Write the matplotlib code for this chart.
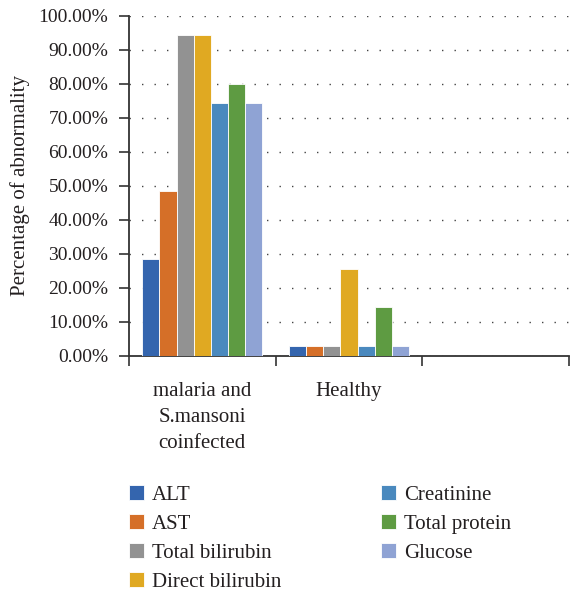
import numpy as np
import matplotlib
matplotlib.use("Agg")
import matplotlib.pyplot as plt

plt.rcParams["font.family"] = ["Liberation Serif", "DejaVu Serif"]

# data (percent abnormal)
categories = ["malaria and\nS.mansoni\ncoinfected", "Healthy", ""]
tests = ["ALT", "AST", "Total bilirubin", "Direct bilirubin",
         "Creatinine", "Total protein", "Glucose"]
alt = [28.57, 2.86, 0]
ast = [48.57, 2.86, 0]
total_bili = [94.29, 2.86, 0]
direct_bili = [94.29, 25.71, 0]
creatinine = [74.29, 2.86, 0]
total_protein = [80.00, 14.29, 0]
glucose = [74.29, 2.86, 0]
series = [alt, ast, total_bili, direct_bili, creatinine, total_protein, glucose]
colors = ["#3465ae", "#d56f28", "#929292", "#e0a922",
          "#4a89be", "#5e9b42", "#8fa3d4"]
yticks = np.arange(0, 101, 10)

TXT = "#231f20"

fig = plt.figure(figsize=(5.70, 5.92), dpi=100)
ax = fig.add_axes([129 / 570, 1 - 356 / 592, 441 / 570 - 0.002, 340 / 592])

x = np.arange(len(categories))
width = 0.117
for i, (vals, c, name) in enumerate(zip(series, colors, tests)):
    offs = (i - 3) * width
    ax.bar(x + offs, vals, width, color=c, edgecolor="white",
           linewidth=0.6, label=name, zorder=3)

ax.set_xlim(-0.5, 2.5)
ax.set_ylim(0, 100)
ax.set_yticks(yticks)
ax.set_yticklabels([f"{v:.2f}%" for v in yticks], fontsize=14, color=TXT)
ax.yaxis.grid(True, linestyle=(0, (1, 8)), color="#444444", linewidth=1, zorder=0)

ax.set_xticks([-0.5, 0.5, 1.5, 2.5])
ax.set_xticklabels([])
ax.set_xticks(x, minor=True)
ax.set_xticklabels(categories, minor=True, fontsize=15, color=TXT,
                   linespacing=1.5, va="top")
ax.tick_params(axis="x", which="minor", length=0, pad=19)
ax.tick_params(axis="x", which="major", length=7, width=1.2, color="#333333")
ax.tick_params(axis="y", length=7, width=1.2, color="#333333", pad=8)

for s in ["top", "right"]:
    ax.spines[s].set_visible(False)
for s in ["left", "bottom"]:
    ax.spines[s].set_color("#333333")
    ax.spines[s].set_linewidth(1.3)

ax.set_ylabel("Percentage of abnormality", fontsize=15, color=TXT, labelpad=6)

handles, labels = ax.get_legend_handles_labels()
fig.legend(handles, labels, loc="upper left", ncol=2,
           bbox_to_anchor=(129 / 570, 1 - 485 / 592), frameon=False,
           fontsize=15, handlelength=0.72, handleheight=0.72,
           handletextpad=0.38, labelspacing=0.45, columnspacing=4.78,
           borderpad=0, borderaxespad=0, labelcolor=TXT)

fig.savefig("out.png", dpi=100)
